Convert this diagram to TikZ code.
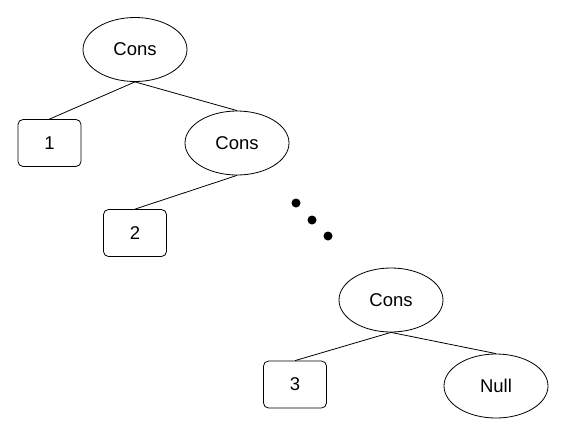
\documentclass[tikz,border=0pt]{standalone}
\usepackage{fontspec}
\setmainfont{Liberation Sans}
\usetikzlibrary{shapes.geometric}
\begin{document}
\begin{tikzpicture}[x=1pt,y=-1pt,
  consnode/.style={draw,line width=0.8pt,ellipse,minimum width=104pt,minimum height=64pt,inner sep=0pt,font=\fontsize{18.5}{21}\selectfont},
  leafbox/.style={draw,line width=0.8pt,rectangle,rounded corners=5pt,minimum width=63pt,minimum height=47pt,inner sep=0pt,font=\fontsize{18.5}{21}\selectfont},
  edge/.style={line width=0.8pt},
  dotmark/.style={fill=black,circle,minimum size=9pt,inner sep=0pt}]
\useasboundingbox[fill=white] (0,0) rectangle (579,437);
\node[consnode] (c1) at (135,49.5) {Cons};
\node[leafbox] (b1) at (49.5,143) {1};
\node[consnode] (c2) at (237,143) {Cons};
\node[leafbox] (b2) at (135,233) {2};
\node[dotmark] (d1) at (296,203) {};
\node[dotmark] (d2) at (312,220) {};
\node[dotmark] (d3) at (328,236) {};
\node[consnode] (c3) at (391,300) {Cons};
\node[leafbox] (b3) at (295,384.5) {3};
\node[consnode] (n) at (496,386) {Null};
\draw[edge] (c1.south) -- (b1.north);
\draw[edge] (c1.south) -- (c2.north);
\draw[edge] (c2.south) -- (b2.north);
\draw[edge] (c3.south) -- (b3.north);
\draw[edge] (c3.south) -- (n.north);
\end{tikzpicture}
\end{document}
